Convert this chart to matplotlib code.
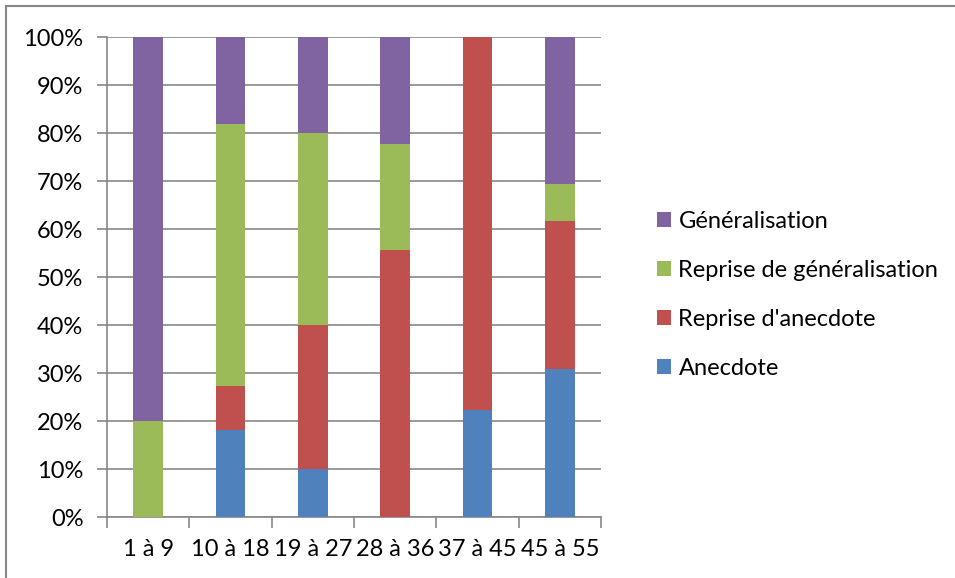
import matplotlib
matplotlib.use("Agg")
import matplotlib.pyplot as plt
from matplotlib.lines import Line2D
from matplotlib.ticker import FixedLocator, PercentFormatter

plt.rcParams['font.family'] = ['Lato', 'DejaVu Sans']

categories = ['1 à 9', '10 à 18', '19 à 27', '28 à 36', '37 à 45', '45 à 55']
anecdote = [0.0, 18.2, 10.0, 0.0, 22.2, 30.8]
reprise_anecdote = [0.0, 9.1, 30.0, 55.6, 77.8, 30.8]
reprise_generalisation = [20.0, 54.5, 40.0, 22.2, 0.0, 7.7]
generalisation = [80.0, 18.2, 20.0, 22.2, 0.0, 30.8]

series = [
    ('Anecdote', anecdote, '#4f81bd'),
    ("Reprise d'anecdote", reprise_anecdote, '#c0504d'),
    ('Reprise de généralisation', reprise_generalisation, '#9bbb59'),
    ('Généralisation', generalisation, '#8064a2'),
]

W, H = 955, 578
FS = 17
fig = plt.figure(figsize=(W / 100, H / 100), dpi=100)
ax = fig.add_axes([107 / W, 1 - 517 / H, (601 - 107) / W, (517 - 37) / H])

x = list(range(len(categories)))
bottom = [0.0] * len(categories)
handles = []
for name, vals, col in series:
    b = ax.bar(x, vals, width=0.36, bottom=bottom, color=col, label=name, zorder=3)
    handles.append(b)
    bottom = [a + v for a, v in zip(bottom, vals)]

ax.set_xlim(-0.5, len(categories) - 0.5)
ax.set_ylim(0, 100)
ax.set_yticks(range(0, 101, 10))
ax.yaxis.set_major_formatter(PercentFormatter(decimals=0))
ax.grid(axis='y', color='#888888', linewidth=1.2, zorder=0)

ax.set_xticks(x)
ax.set_xticklabels(categories, fontsize=FS)
ax.tick_params(axis='x', length=0, pad=16)
ax.xaxis.set_minor_locator(FixedLocator([i - 0.5 for i in range(len(categories) + 1)]))
ax.tick_params(axis='x', which='minor', length=8, width=1.2, color='#888888')
ax.tick_params(axis='y', labelsize=FS, length=7, width=1.2, color='#888888', pad=10)

for s in ['top', 'right']:
    ax.spines[s].set_visible(False)
for s in ['left', 'bottom']:
    ax.spines[s].set_color('#888888')
    ax.spines[s].set_linewidth(1.2)

leg = fig.legend(handles[::-1], [h.get_label() for h in handles[::-1]],
                 loc='center left', bbox_to_anchor=(636 / W, 1 - 295 / H),
                 frameon=False, fontsize=FS, handlelength=0.6, handleheight=0.6,
                 handletextpad=0.3, labelspacing=1.18)

# outer chart border (left and top edges visible)
fig.add_artist(Line2D([6 / W, 6 / W], [0, 1 - 6 / H], transform=fig.transFigure,
                      color='#888888', linewidth=1.5))
fig.add_artist(Line2D([6 / W, 1], [1 - 6 / H, 1 - 6 / H], transform=fig.transFigure,
                      color='#888888', linewidth=1.5))

fig.savefig('out.png', dpi=100)
